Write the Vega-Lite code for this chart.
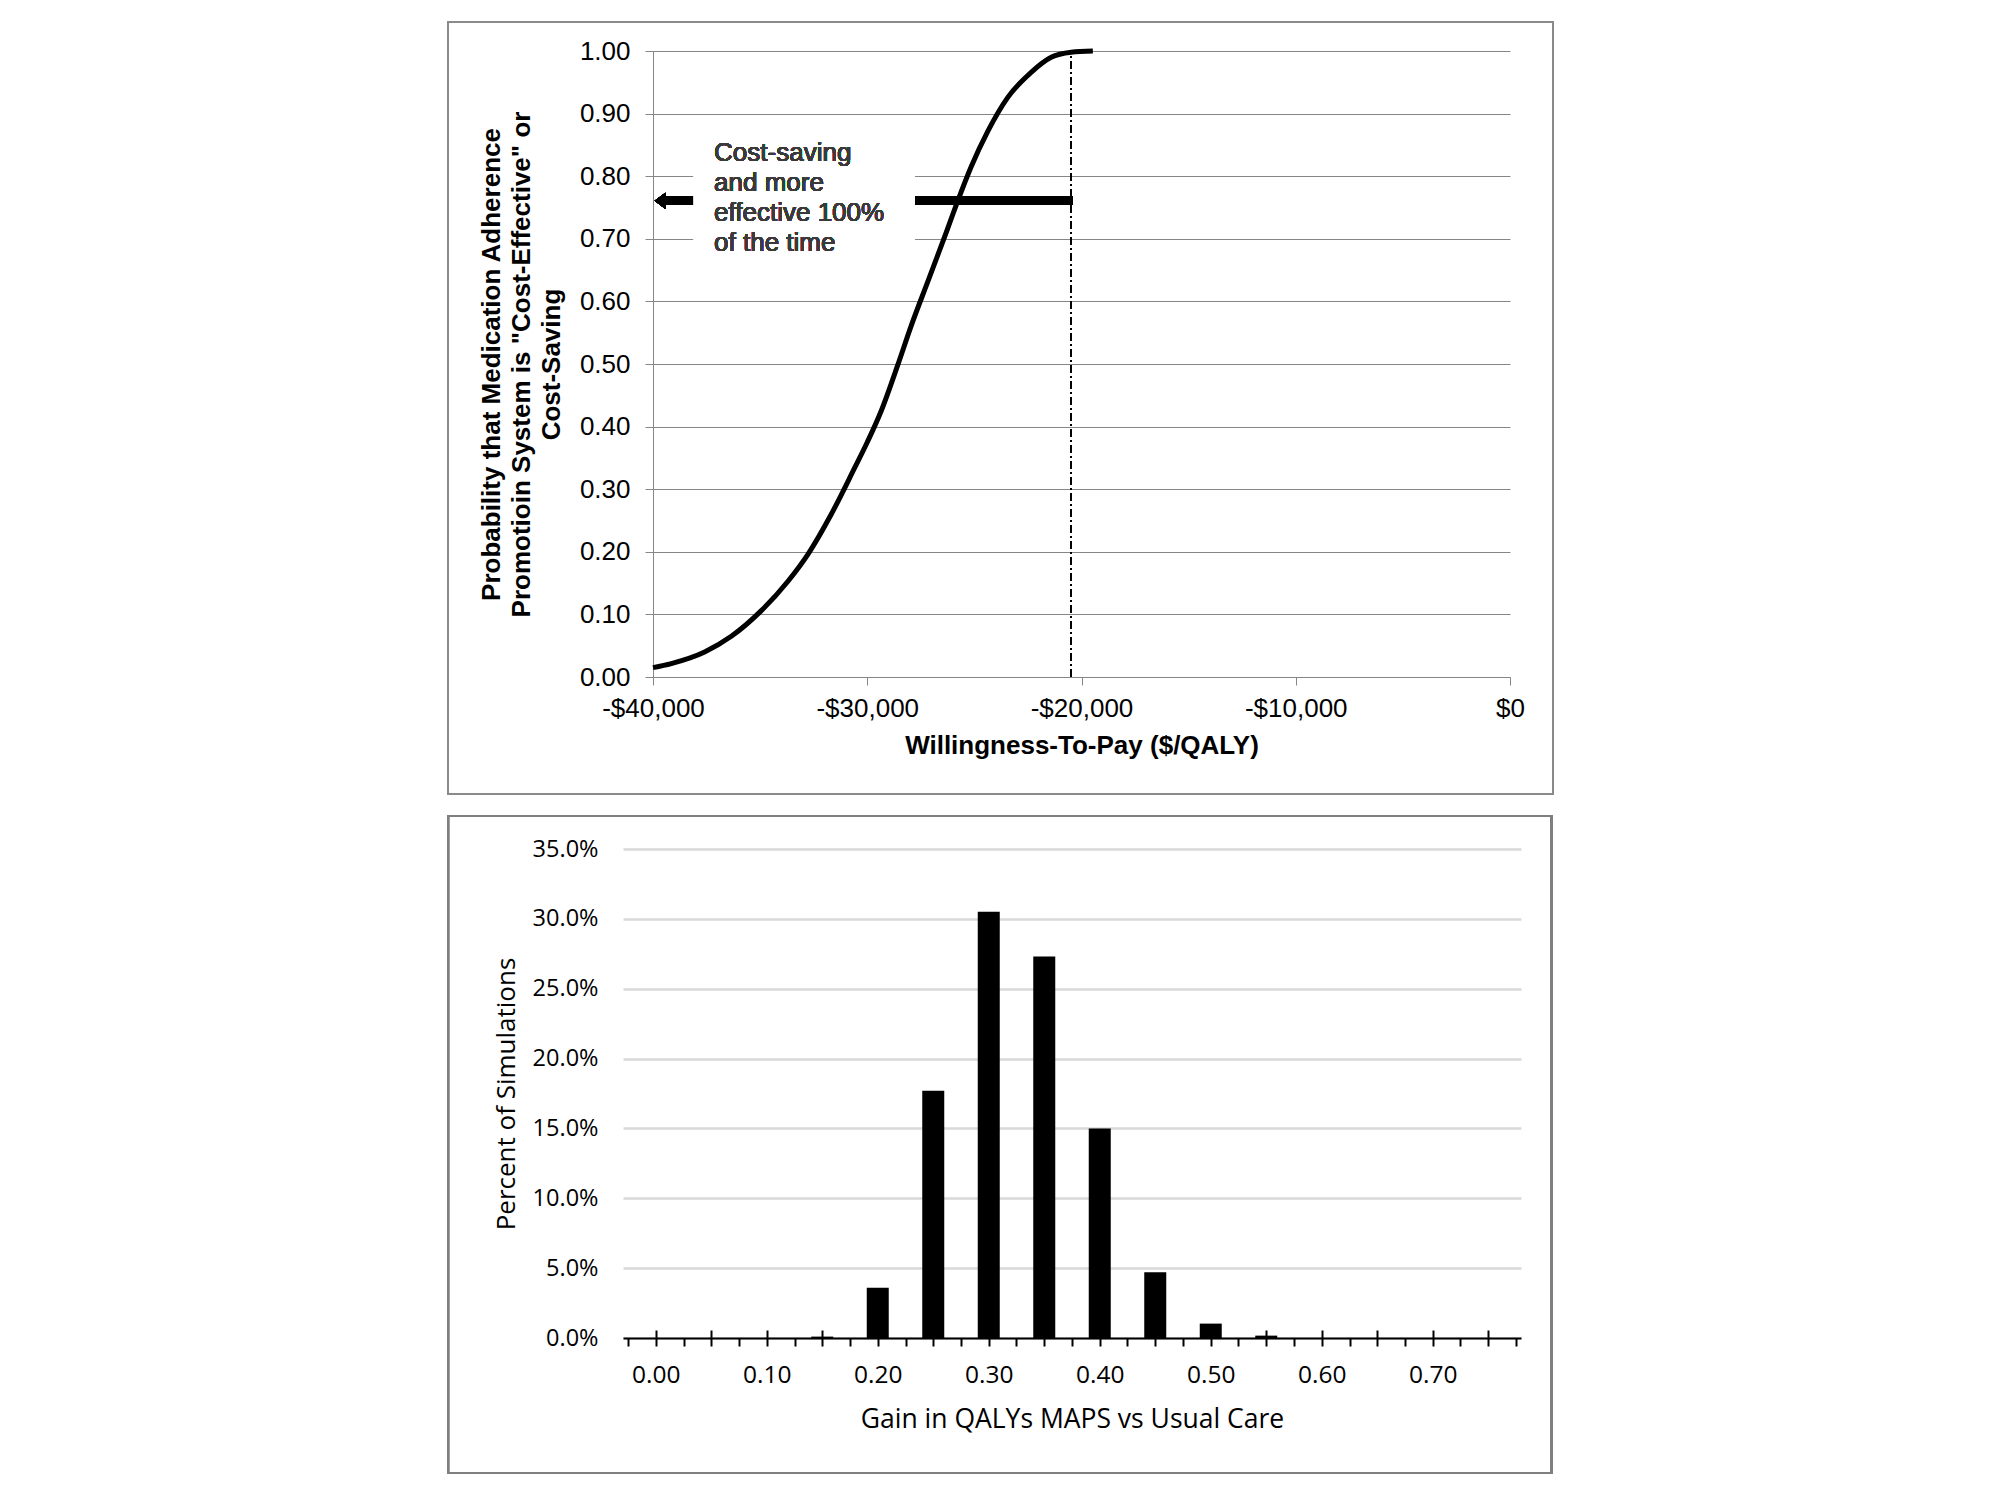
{
  "$schema": "https://vega.github.io/schema/vega-lite/v6.json",
  "background": "white",
  "padding": {"left": 446, "top": 21, "right": 5, "bottom": 5},
  "datasets": {
    "ceac": [
      {"wtp": -40000, "prob": 0.015},
      {"wtp": -39145, "prob": 0.0215},
      {"wtp": -37590, "prob": 0.040},
      {"wtp": -36345, "prob": 0.065},
      {"wtp": -34945, "prob": 0.106},
      {"wtp": -33700, "prob": 0.153},
      {"wtp": -32770, "prob": 0.196},
      {"wtp": -31680, "prob": 0.260},
      {"wtp": -30590, "prob": 0.334},
      {"wtp": -30000, "prob": 0.375},
      {"wtp": -29350, "prob": 0.425},
      {"wtp": -28570, "prob": 0.499},
      {"wtp": -27950, "prob": 0.561},
      {"wtp": -27170, "prob": 0.632},
      {"wtp": -26390, "prob": 0.703},
      {"wtp": -25770, "prob": 0.761},
      {"wtp": -25150, "prob": 0.815},
      {"wtp": -24370, "prob": 0.872},
      {"wtp": -23440, "prob": 0.926},
      {"wtp": -22350, "prob": 0.966},
      {"wtp": -21415, "prob": 0.990},
      {"wtp": -20480, "prob": 0.998},
      {"wtp": -19470, "prob": 1.0}
    ],
    "hist": [
      {"gain": 0.00, "pct": 0},
      {"gain": 0.05, "pct": 0},
      {"gain": 0.10, "pct": 0},
      {"gain": 0.15, "pct": 0.001},
      {"gain": 0.20, "pct": 0.036},
      {"gain": 0.25, "pct": 0.177},
      {"gain": 0.30, "pct": 0.305},
      {"gain": 0.35, "pct": 0.273},
      {"gain": 0.40, "pct": 0.150},
      {"gain": 0.45, "pct": 0.047},
      {"gain": 0.50, "pct": 0.0103},
      {"gain": 0.55, "pct": 0.0017},
      {"gain": 0.60, "pct": 0},
      {"gain": 0.65, "pct": 0},
      {"gain": 0.70, "pct": 0},
      {"gain": 0.75, "pct": 0}
    ]
  },
  "spacing": 19,
  "vconcat": [
    {
      "spacing": 0,
      "hconcat": [
        {
          "width": 1,
          "height": 1,
          "data": {"values": []},
          "mark": "point"
        },
        {
          "width": 857,
          "height": 626,
          "data": {"name": "ceac"},
          "layer": [
            {
              "mark": {"type": "line", "color": "black", "strokeWidth": 5, "interpolate": "monotone"},
              "encoding": {
                "x": {
                  "field": "wtp",
                  "type": "quantitative",
                  "scale": {"domain": [-40000, 0], "nice": false, "zero": false},
                  "axis": {
                    "title": "Willingness-To-Pay ($/QALY)",
                    "values": [-40000, -30000, -20000, -10000, 0],
                    "labelExpr": "datum.value < 0 ? '-$' + format(-datum.value, ',') : '$' + format(datum.value, ',')",
                    "grid": false,
                    "domainColor": "#868686",
                    "tickColor": "#868686",
                    "tickSize": 8,
                    "labelFont": "Liberation Sans",
                    "labelFontSize": 26,
                    "labelColor": "black",
                    "labelPadding": 10,
                    "labelFlush": false,
                    "labelOverlap": false,
                    "titleFont": "Liberation Sans",
                    "titleFontSize": 26,
                    "titleFontWeight": "bold",
                    "titleColor": "black",
                    "titlePadding": 11
                  }
                },
                "y": {
                  "field": "prob",
                  "type": "quantitative",
                  "scale": {"domain": [0, 1], "nice": false},
                  "axis": {
                    "title": ["Probability that Medication Adherence", "Promotioin System is \"Cost-Effective\" or", "Cost-Saving"],
                    "values": [0, 0.1, 0.2, 0.3, 0.4, 0.5, 0.6, 0.7, 0.8, 0.9, 1],
                    "format": ".2f",
                    "grid": true,
                    "gridColor": "#868686",
                    "gridWidth": 1,
                    "domainColor": "#868686",
                    "tickColor": "#868686",
                    "tickSize": 8,
                    "labelFont": "Liberation Sans",
                    "labelFontSize": 26,
                    "labelColor": "black",
                    "labelPadding": 15,
                    "labelFlush": false,
                    "labelOverlap": false,
                    "titleFont": "Liberation Sans",
                    "titleFontSize": 26,
                    "titleFontWeight": "bold",
                    "titleColor": "black",
                    "titleLineHeight": 30,
                    "titlePadding": 15
                  }
                }
              }
            },
            {
              "mark": {"type": "rect", "filled": false, "stroke": "#8a8a8a", "strokeWidth": 1.2},
              "encoding": {
                "x": {"datum": -49568, "type": "quantitative"},
                "x2": {"datum": 2007},
                "y": {"datum": 1.0463, "type": "quantitative"},
                "y2": {"datum": -0.1869}
              }
            },
            {
              "mark": {"type": "rule", "color": "black", "strokeWidth": 8},
              "encoding": {
                "x": {"datum": -20400, "type": "quantitative"},
                "x2": {"datum": -39600},
                "y": {"datum": 0.7606, "type": "quantitative"}
              }
            },
            {
              "mark": {"type": "point", "filled": true, "color": "black", "opacity": 1, "size": 324, "shape": "M -0.6 0 L 0.6 -0.9 L 0.6 0.9 Z"},
              "encoding": {
                "x": {"datum": -39670, "type": "quantitative"},
                "y": {"datum": 0.7606, "type": "quantitative"}
              }
            },
            {
              "mark": {"type": "rect", "fill": "white", "stroke": null},
              "encoding": {
                "x": {"datum": -38090, "type": "quantitative"},
                "x2": {"datum": -27790},
                "y": {"datum": 0.66, "type": "quantitative"},
                "y2": {"datum": 0.87}
              }
            },
            {
              "mark": {
                "type": "text",
                "text": ["Cost-saving", "and more", "effective 100%", "of the time"],
                "align": "left",
                "baseline": "alphabetic",
                "lineHeight": 30,
                "font": "Liberation Sans",
                "fontSize": 26,
                "color": "#3a3a3a"
              },
              "encoding": {
                "x": {"datum": -37150, "type": "quantitative"},
                "y": {"datum": 0.824, "type": "quantitative"}
              }
            },
            {
              "mark": {"type": "rule", "color": "black", "strokeWidth": 1.2, "strokeDash": [8, 3, 2, 3]},
              "encoding": {
                "x": {"datum": -20500, "type": "quantitative"},
                "y": {"datum": 0, "type": "quantitative"},
                "y2": {"datum": 0.997}
              }
            }
          ]
        }
      ]
    },
    {
      "spacing": 0,
      "hconcat": [
        {
          "width": 1,
          "height": 1,
          "data": {"values": []},
          "mark": "point"
        },
        {
          "width": 898,
          "height": 489,
          "data": {"name": "hist"},
          "resolve": {"axis": {"x": "independent"}},
          "layer": [
            {
              "mark": {"type": "bar", "color": "black", "width": 22},
              "encoding": {
                "x": {
                  "field": "gain",
                  "type": "quantitative",
                  "scale": {"domain": [-0.025, 0.775], "nice": false, "zero": false},
                  "axis": {
                    "orient": "bottom",
                    "title": "Gain in QALYs MAPS vs Usual Care",
                    "values": [-0.025, 0, 0.025, 0.05, 0.075, 0.1, 0.125, 0.15, 0.175, 0.2, 0.225, 0.25, 0.275, 0.3, 0.325, 0.35, 0.375, 0.4, 0.425, 0.45, 0.475, 0.5, 0.525, 0.55, 0.575, 0.6, 0.625, 0.65, 0.675, 0.7, 0.725, 0.75, 0.775],
                    "labelExpr": "abs(datum.value * 10 - round(datum.value * 10)) < 0.001 ? format(datum.value, '.2f') : ''",
                    "grid": false,
                    "domainColor": "black",
                    "domainWidth": 2,
                    "tickColor": "black",
                    "tickWidth": 2,
                    "tickSize": 8,
                    "labelFont": "Open Sans",
                    "labelFontSize": 24.5,
                    "labelColor": "black",
                    "labelPadding": 17,
                    "labelFlush": false,
                    "labelOverlap": false,
                    "titleFont": "Open Sans",
                    "titleFontSize": 26.5,
                    "titleFontWeight": "normal",
                    "titleColor": "black",
                    "titlePadding": 20
                  }
                },
                "y": {
                  "field": "pct",
                  "type": "quantitative",
                  "scale": {"domain": [0, 0.35], "nice": false},
                  "axis": {
                    "title": "Percent of Simulations",
                    "values": [0, 0.05, 0.1, 0.15, 0.2, 0.25, 0.3, 0.35],
                    "format": ".1%",
                    "grid": true,
                    "gridColor": "#d9d9d9",
                    "gridWidth": 2.5,
                    "domain": false,
                    "ticks": false,
                    "labelFont": "Open Sans",
                    "labelFontSize": 23.5,
                    "labelColor": "black",
                    "labelPadding": 25,
                    "labelFlush": false,
                    "labelOverlap": false,
                    "titleFont": "Open Sans",
                    "titleFontSize": 26,
                    "titleFontWeight": "normal",
                    "titleColor": "black",
                    "titlePadding": 13
                  }
                }
              }
            },
            {
              "mark": {"type": "rect", "filled": false, "stroke": "#7f7f7f", "strokeWidth": 2},
              "encoding": {
                "x": {
                  "datum": -0.1871,
                  "type": "quantitative",
                  "axis": {
                    "orient": "bottom",
                    "values": [0, 0.05, 0.1, 0.15, 0.2, 0.25, 0.3, 0.35, 0.4, 0.45, 0.5, 0.55, 0.6, 0.65, 0.7, 0.75],
                    "labels": false,
                    "domain": false,
                    "grid": false,
                    "title": null,
                    "tickColor": "black",
                    "tickWidth": 2,
                    "tickSize": -8
                  }
                },
                "x2": {"datum": 0.807},
                "y": {"datum": 0.3737, "type": "quantitative"},
                "y2": {"datum": -0.0966}
              }
            }
          ]
        }
      ]
    }
  ],
  "config": {
    "view": {"stroke": null}
  }
}
